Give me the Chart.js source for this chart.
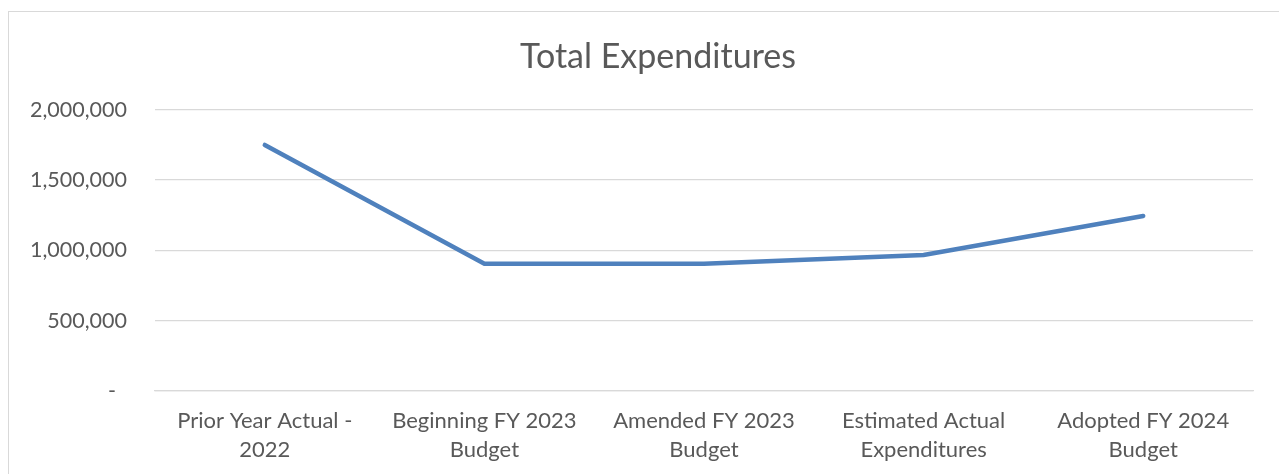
<!DOCTYPE html>
<html>
<head>
<meta charset="utf-8">
<title>Total Expenditures</title>
<script src="https://cdn.jsdelivr.net/npm/chart.js@4.4.1/dist/chart.umd.min.js"></script>
<style>
  html, body { margin: 0; padding: 0; background: #fff; overflow: hidden; }
  #wrap { position: relative; width: 1279px; height: 474px; overflow: hidden; }
  #frame { position: absolute; left: 8px; top: 11px; width: 1300px; height: 500px; border: 1px solid #d9d9d9; }
  #chart { position: absolute; left: 0; top: 0; }
</style>
</head>
<body>
<div id="wrap">
  <div id="frame"></div>
  <!-- the chart frame runs past the right edge of the view, so the canvas does too -->
  <canvas id="chart" width="1316" height="474"></canvas>
</div>
<script>
var categories = [
    ["Prior Year Actual -", "2022"],
    ["Beginning FY 2023", "Budget"],
    ["Amended FY 2023", "Budget"],
    ["Estimated Actual", "Expenditures"],
    ["Adopted FY 2024", "Budget"]
];
var expenditures = [1750000, 905000, 905000, 968000, 1245000];
var yTicks = [0, 500000, 1000000, 1500000, 2000000];

var textColor = '#595959';
var gridColor = '#d9d9d9';
var fontFamily = 'Lato, "Open Sans", sans-serif';

var formatTick = function(v) {
    if (v === 0) return '-  ';
    return v.toLocaleString('en-US');
};

window.onload = function() {
    new Chart(document.getElementById('chart'), {
        type: 'line',
        data: {
            labels: categories,
            datasets: [{
                label: 'Total Expenditures',
                data: expenditures,
                borderColor: '#4f81bd',
                backgroundColor: '#4f81bd',
                borderWidth: 4.5,
                borderCapStyle: 'round',
                pointRadius: 0,
                tension: 0,
                fill: false,
                yAxisID: 'y'
            }]
        },
        options: {
            responsive: false,
            animation: false,
            layout: { padding: 0 },
            plugins: {
                legend: { display: false },
                tooltip: { enabled: false },
                title: {
                    display: true,
                    text: 'Total Expenditures',
                    color: textColor,
                    font: { family: fontFamily, size: 34, weight: 'normal', lineHeight: 1.2 },
                    padding: { top: 37, bottom: 32 }
                }
            },
            scales: {
                x: {
                    offset: true,
                    grid: { display: false, drawTicks: false },
                    border: { display: true, color: gridColor, width: 1.3 },
                    ticks: {
                        color: textColor,
                        font: { family: fontFamily, size: 22, lineHeight: 1.3 },
                        padding: 16,
                        maxRotation: 0,
                        autoSkip: false
                    },
                    afterFit: function(scale) { scale.height = 83; }
                },
                y: {
                    min: 0,
                    max: 2000000,
                    afterBuildTicks: function(scale) {
                        scale.ticks = yTicks.map(function(v) { return { value: v }; });
                    },
                    grid: { color: gridColor, lineWidth: 1.3, drawTicks: false },
                    border: { display: false },
                    ticks: {
                        color: textColor,
                        font: { family: fontFamily, size: 21.5 },
                        padding: 28,
                        callback: formatTick
                    },
                    afterFit: function(scale) { scale.width = 155; }
                },
                // empty right-hand gutter between the plot and the frame edge
                gutter: {
                    type: 'linear',
                    position: 'right',
                    display: true,
                    grid: { display: false, drawTicks: false },
                    border: { display: false },
                    ticks: { display: false },
                    afterFit: function(scale) { scale.width = 63; }
                }
            }
        }
    });
};
</script>
</body>
</html>
